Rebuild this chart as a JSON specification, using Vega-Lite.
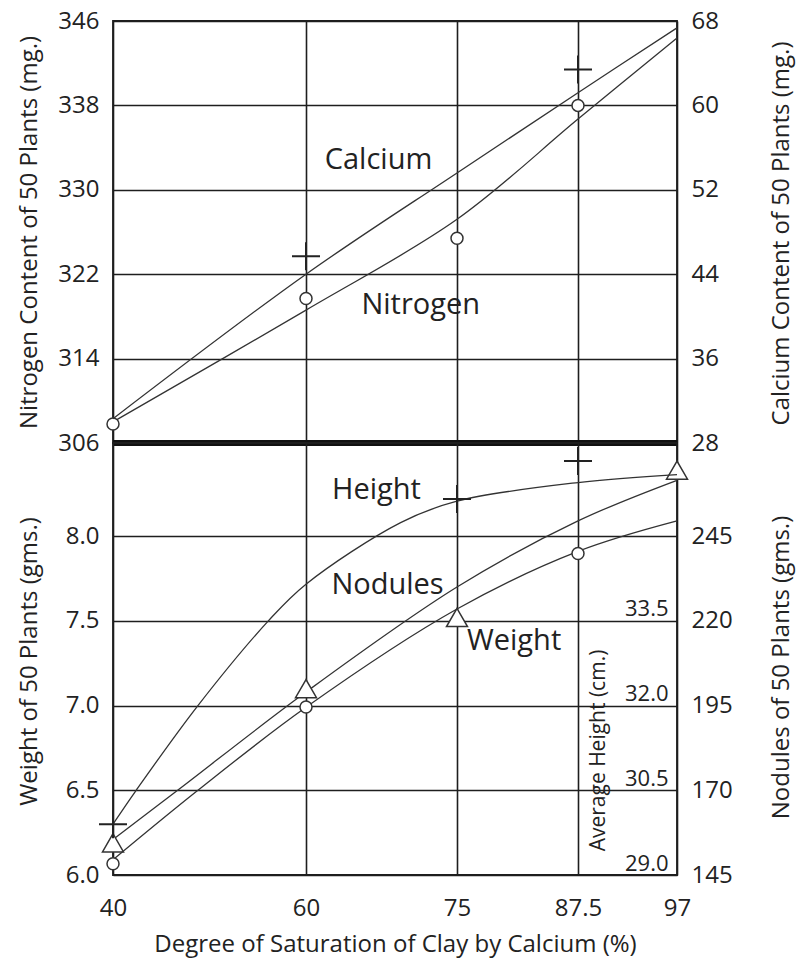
{
  "$schema": "https://vega.github.io/schema/vega-lite/v6.json",
  "padding": {"left": 16, "top": 8, "right": 5, "bottom": 5},
  "bounds": "flush",
  "spacing": 0,
  "datasets": {
    "nitrogenFit": [
      {"pct": 40, "n": 308.0}, {"pct": 60, "n": 318.6}, {"pct": 75, "n": 327.2},
      {"pct": 87.5, "n": 336.7}, {"pct": 97, "n": 344.4}
    ],
    "nitrogenObs": [
      {"pct": 40, "n": 307.8}, {"pct": 60, "n": 319.7}, {"pct": 75, "n": 325.4}, {"pct": 87.5, "n": 338.0}
    ],
    "calciumFit": [
      {"pct": 40, "ca": 30.3}, {"pct": 60, "ca": 44.0}, {"pct": 75, "ca": 53.6},
      {"pct": 87.5, "ca": 61.2}, {"pct": 97, "ca": 67.35}
    ],
    "calciumObs": [
      {"pct": 60, "ca": 45.7}, {"pct": 87.5, "ca": 63.4}
    ],
    "weightFit": [
      {"pct": 40, "w": 6.21}, {"pct": 46.7, "w": 6.5}, {"pct": 60, "w": 7.08},
      {"pct": 75, "w": 7.70}, {"pct": 87.5, "w": 8.09}, {"pct": 97, "w": 8.33}
    ],
    "weightObs": [
      {"pct": 40, "w": 6.19}, {"pct": 60, "w": 7.10}, {"pct": 75, "w": 7.52}, {"pct": 97, "w": 8.39}
    ],
    "nodulesFit": [
      {"pct": 40, "nod": 149.5}, {"pct": 48.8, "nod": 170}, {"pct": 60, "nod": 194.5},
      {"pct": 75, "nod": 223.5}, {"pct": 87.5, "nod": 240.5}, {"pct": 97, "nod": 249.5}
    ],
    "nodulesObs": [
      {"pct": 40, "nod": 148.3}, {"pct": 60, "nod": 194.6}, {"pct": 87.5, "nod": 239.9}
    ],
    "heightFit": [
      {"pct": 40, "h": 29.9}, {"pct": 42.4, "h": 30.5}, {"pct": 48.8, "h": 32.0},
      {"pct": 56.1, "h": 33.5}, {"pct": 60, "h": 34.15}, {"pct": 69.4, "h": 35.24},
      {"pct": 75, "h": 35.62}, {"pct": 87.5, "h": 35.95}, {"pct": 97, "h": 36.09}
    ],
    "heightObs": [
      {"pct": 40, "h": 29.9}, {"pct": 75, "h": 35.66}, {"pct": 87.5, "h": 36.33}
    ]
  },
  "config": {
    "font": "Open Sans",
    "view": {"stroke": "#1e1e1e", "strokeWidth": 1.8},
    "axis": {
      "labelFont": "Open Sans", "titleFont": "Open Sans",
      "labelFontSize": 24, "titleFontSize": 24,
      "labelColor": "#222", "titleColor": "#222", "titleFontWeight": "normal",
      "ticks": false, "domain": false,
      "gridColor": "#1e1e1e", "gridWidth": 1.6, "gridOpacity": 1,
      "labelPadding": 14
    },
    "line": {"stroke": "#333", "strokeWidth": 1.3},
    "text": {"font": "Open Sans", "fontSize": 29, "fill": "#222"}
  },
  "vconcat": [
    {
      "width": 564,
      "height": 422,
      "resolve": {"scale": {"y": "independent"}, "axis": {"y": "independent"}},
      "layer": [
        {
          "layer": [
            {
              "data": {"name": "nitrogenFit"},
              "mark": {"type": "line", "interpolate": "catmull-rom"},
              "encoding": {
                "x": {"field": "pct", "type": "quantitative",
                  "scale": {"domain": [40, 60, 75, 87.5, 97], "range": [0, 193, 344, 465, 564], "nice": false, "zero": false},
                  "axis": {"values": [40, 60, 75, 87.5, 97], "labels": false, "title": null, "grid": true}},
                "y": {"field": "n", "type": "quantitative",
                  "scale": {"domain": [306, 346], "nice": false, "zero": false},
                  "axis": {"orient": "left", "values": [306, 314, 322, 330, 338, 346], "format": "d", "grid": true,
                    "title": "Nitrogen Content of 50 Plants (mg.)",
                    "titleX": -84, "titleY": 211, "titleAngle": 270, "titleAlign": "center", "titleBaseline": "middle"}}
              }
            },
            {
              "data": {"name": "nitrogenObs"},
              "mark": {"type": "point", "shape": "circle", "filled": true, "fill": "white", "stroke": "#333", "strokeWidth": 1.5, "size": 144, "opacity": 1},
              "encoding": {
                "x": {"field": "pct", "type": "quantitative"},
                "y": {"field": "n", "type": "quantitative"}
              }
            },
            {
              "data": {"values": [{}]},
              "mark": {"type": "rule", "strokeWidth": 6, "color": "#111"},
              "encoding": {"y": {"datum": 306}}
            },
            {
              "data": {"values": [{}]},
              "mark": {"type": "text", "text": "Calcium", "align": "center", "baseline": "middle"},
              "encoding": {"x": {"datum": 67.2}, "y": {"datum": 332.8}}
            },
            {
              "data": {"values": [{}]},
              "mark": {"type": "text", "text": "Nitrogen", "align": "center", "baseline": "middle"},
              "encoding": {"x": {"datum": 71.4}, "y": {"datum": 319.1}}
            }
          ]
        },
        {
          "layer": [
            {
              "data": {"name": "calciumFit"},
              "mark": {"type": "line", "interpolate": "catmull-rom"},
              "encoding": {
                "x": {"field": "pct", "type": "quantitative"},
                "y": {"field": "ca", "type": "quantitative",
                  "scale": {"domain": [28, 68], "nice": false, "zero": false},
                  "axis": {"orient": "right", "values": [28, 36, 44, 52, 60, 68], "format": "d", "grid": false,
                    "title": "Calcium Content of 50 Plants (mg.)",
                    "titleX": 104, "titleY": 212, "titleAngle": 270, "titleAlign": "center", "titleBaseline": "middle"}}
              }
            },
            {
              "data": {"name": "calciumObs"},
              "mark": {"type": "point", "shape": "M-1,0L1,0M0,-1L0,1", "filled": false, "stroke": "#222", "strokeWidth": 2, "size": 784, "opacity": 1},
              "encoding": {
                "x": {"field": "pct", "type": "quantitative"},
                "y": {"field": "ca", "type": "quantitative"}
              }
            }
          ]
        }
      ]
    },
    {
      "width": 564,
      "height": 432,
      "resolve": {"scale": {"y": "independent"}, "axis": {"y": "independent"}},
      "layer": [
        {
          "layer": [
            {
              "data": {"name": "weightFit"},
              "mark": {"type": "line", "interpolate": "catmull-rom"},
              "encoding": {
                "x": {"field": "pct", "type": "quantitative",
                  "scale": {"domain": [40, 60, 75, 87.5, 97], "range": [0, 193, 344, 465, 564], "nice": false, "zero": false},
                  "axis": {"values": [40, 60, 75, 87.5, 97], "labelExpr": "'' + datum.value", "grid": true, "labelFlush": false,
                    "labelPadding": 21, "titlePadding": 12,
                    "title": "Degree of Saturation of Clay by Calcium (%)"}},
                "y": {"field": "w", "type": "quantitative",
                  "scale": {"domain": [6, 8.55], "nice": false, "zero": false},
                  "axis": {"orient": "left", "values": [6, 6.5, 7, 7.5, 8], "format": ".1f", "grid": true,
                    "title": "Weight of 50 Plants (gms.)",
                    "titleX": -84, "titleY": 218, "titleAngle": 270, "titleAlign": "center", "titleBaseline": "middle"}}
              }
            },
            {
              "data": {"name": "weightObs"},
              "mark": {"type": "point", "shape": "triangle-up", "filled": true, "fill": "white", "stroke": "#333", "strokeWidth": 1.5, "size": 441, "opacity": 1},
              "encoding": {
                "x": {"field": "pct", "type": "quantitative"},
                "y": {"field": "w", "type": "quantitative"}
              }
            },
            {
              "data": {"values": [{}]},
              "mark": {"type": "text", "text": "Height", "align": "center", "baseline": "middle"},
              "encoding": {"x": {"datum": 67.0}, "y": {"datum": 8.273}}
            },
            {
              "data": {"values": [{}]},
              "mark": {"type": "text", "text": "Nodules", "align": "center", "baseline": "middle"},
              "encoding": {"x": {"datum": 68.1}, "y": {"datum": 7.709}}
            },
            {
              "data": {"values": [{}]},
              "mark": {"type": "text", "text": "Weight", "align": "center", "baseline": "middle"},
              "encoding": {"x": {"datum": 80.9}, "y": {"datum": 7.384}}
            }
          ]
        },
        {
          "layer": [
            {
              "data": {"name": "nodulesFit"},
              "mark": {"type": "line", "interpolate": "catmull-rom"},
              "encoding": {
                "x": {"field": "pct", "type": "quantitative"},
                "y": {"field": "nod", "type": "quantitative",
                  "scale": {"domain": [145, 272.5], "nice": false, "zero": false},
                  "axis": {"orient": "right", "values": [145, 170, 195, 220, 245], "format": "d", "grid": false,
                    "title": "Nodules of 50 Plants (gms.)",
                    "titleX": 104, "titleY": 224, "titleAngle": 270, "titleAlign": "center", "titleBaseline": "middle"}}
              }
            },
            {
              "data": {"name": "nodulesObs"},
              "mark": {"type": "point", "shape": "circle", "filled": true, "fill": "white", "stroke": "#333", "strokeWidth": 1.5, "size": 144, "opacity": 1},
              "encoding": {
                "x": {"field": "pct", "type": "quantitative"},
                "y": {"field": "nod", "type": "quantitative"}
              }
            }
          ]
        },
        {
          "layer": [
            {
              "data": {"name": "heightFit"},
              "mark": {"type": "line", "interpolate": "catmull-rom"},
              "encoding": {
                "x": {"field": "pct", "type": "quantitative"},
                "y": {"field": "h", "type": "quantitative",
                  "scale": {"domain": [29, 36.65], "nice": false, "zero": false},
                  "axis": {"orient": "left", "offset": -564, "values": [29, 30.5, 32, 33.5], "format": ".1f", "grid": false,
                    "labelFontSize": 22, "labelBaseline": "bottom", "labelPadding": 9,
                    "title": "Average Height (cm.)", "titleFontSize": 21,
                    "titleX": -79, "titleY": 307, "titleAngle": 270, "titleAlign": "center", "titleBaseline": "middle"}}
              }
            },
            {
              "data": {"name": "heightObs"},
              "mark": {"type": "point", "shape": "M-1,0L1,0M0,-1L0,1", "filled": false, "stroke": "#222", "strokeWidth": 2, "size": 784, "opacity": 1},
              "encoding": {
                "x": {"field": "pct", "type": "quantitative"},
                "y": {"field": "h", "type": "quantitative"}
              }
            }
          ]
        }
      ]
    }
  ]
}
